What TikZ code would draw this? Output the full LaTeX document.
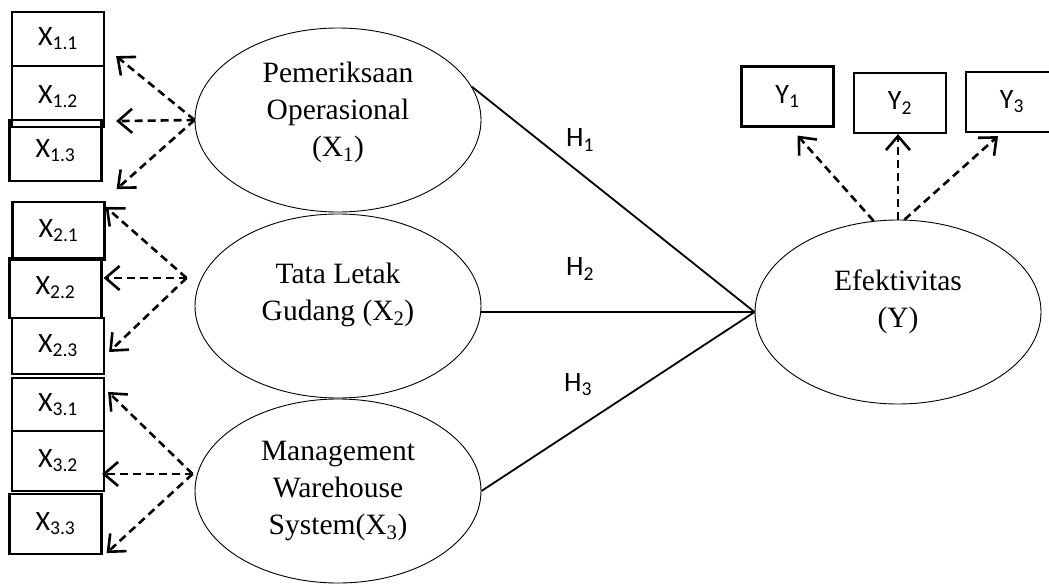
\documentclass[tikz,border=0pt]{standalone}
\usepackage{fontspec}
\setmainfont{Liberation Serif}
\newfontfamily\calibri{Carlito}
\usetikzlibrary{arrows.meta,calc,shapes.geometric}
\tikzset{
  latent/.style={ellipse,draw,line width=0.9pt,minimum width=286,minimum height=184,inner sep=0pt,align=center,font=\fontsize{29.5}{37}\selectfont},
  indicator/.style={draw,line width=2.2pt,minimum width=92,inner sep=0pt,font=\calibri\fontsize{28}{32}\selectfont},
  hlabel/.style={font=\calibri\fontsize{28}{32}\selectfont},
  hyp/.style={line width=1.8pt},
  loading/.style={dash pattern=on 8pt off 5pt,line width=2.6pt,-{Straight Barb[length=14pt,width=24pt]}}
}
\begin{document}
\begin{tikzpicture}[x=1pt,y=-1pt]
\clip (0,0) rectangle (1049,586);
% latent variables
\node[latent] (e1) at (338,120) {~\\[-31pt]Pemeriksaan\\Operasional\\(X\textsubscript{1})};
\node[latent] (e2) at (338,306) {Tata Letak\\Gudang (X\textsubscript{2})\\[-8pt]~};
\node[latent] (e3) at (338,491) {Management\\Warehouse\\System(X\textsubscript{3})};
\node[latent] (Y) at (898,312) {Efektivitas\\(Y)\\[-11pt]~};
% indicators
\foreach \nm/\x/\y/\h/\lbl in {x11/58/39/54/{1.1},x12/58/96.5/61/{1.2},x13/55.5/150.5/61/{1.3},
  x21/58.5/231/58/{2.1},x22/55.5/288/60/{2.2},x23/58/346/56/{2.3},
  x31/58/404.5/53/{3.1},x32/58/461/60/{3.2},x33/55.5/524/60/{3.3}}
  \node[indicator,minimum height=\h] (\nm) at (\x,\y) {X\textsubscript{\lbl}};
\foreach \nm/\x/\y/\lbl in {y1/787.5/96.5/1,y2/900/103/2,y3/1012/102/3}
  \node[indicator,minimum height=60] (\nm) at (\x,\y) {Y\textsubscript{\lbl}};
% loadings
\draw[loading] (e1.west) -- ($(x11.south east)+(11,-11)$);
\draw[loading] (e1.west) -- ($(x12.south east)+(11,-7)$);
\draw[loading] (e1.west) -- ($(x13.south east)+(14,7)$);
\coordinate (o2) at ($(e2.west)+(-8,-28)$);
\draw[loading] (o2) -- ($(x21.north east)+(0,6)$);
\draw[loading] (o2) -- ($(x22.east)+(1,-10)$);
\draw[loading] (o2) -- ($(x23.east)+(4,6)$);
\coordinate (o3) at ($(e3.west)+(-2,-17)$);
\draw[loading] (o3) -- ($(x31.north east)+(3,15)$);
\draw[loading] (o3) -- ($(x32.east)+(-3,13)$);
\draw[loading] (o3) -- ($(x33.south east)+(4,-2)$);
\draw[loading] (Y.105) -- ($(y1.south)+(10,8)$);
\draw[loading] (Y.north) -- (Y.north |- y2.south);
\draw[loading] (Y.86) -- ($(y3.south)+(-14,3)$);
% hypotheses
\draw[hyp] (e1.14) -- (Y.west);
\draw[hyp] (e2.east |- Y.west) -- (Y.west);
\draw[hyp] (e3.east) -- (Y.west);
\node[hlabel] (h1) at (580,140) {H\textsubscript{1}};
\node[hlabel] (h2) at (580,269) {H\textsubscript{2}};
\node[hlabel] (h3) at (578,385) {H\textsubscript{3}};
\end{tikzpicture}
\end{document}
